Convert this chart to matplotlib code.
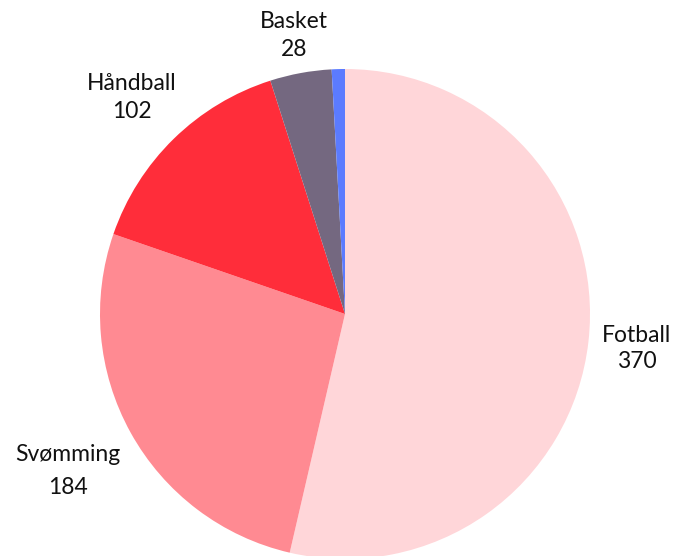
import matplotlib.pyplot as plt

# data
SPORTS = ["Fotball", "Svømming", "Håndball", "Basket", ""]
VALUES = [370, 184, 102, 28, 6]
COLORS = ["#ffd6d9", "#ff8a92", "#ff2d3a", "#746880", "#5b7bff"]

# label anchors in pixels (x center, baseline of name, baseline of number)
LABEL_POS = [(637, 342, 368), (68, 461, 494), (132, 90, 118), (294, 28, 56), None]

W, H = 689, 556
CX, CY, R = 345, 314, 245

plt.rcParams["font.family"] = ["Lato", "DejaVu Sans"]

fig = plt.figure(figsize=(W / 100, H / 100), dpi=100)
ax = fig.add_axes([(CX - R) / W, (H - CY - R) / H, 2 * R / W, 2 * R / H])
ax.pie(VALUES, colors=COLORS, startangle=90, counterclock=False,
       wedgeprops={"linewidth": 0})
ax.set_xlim(-1, 1)
ax.set_ylim(-1, 1)
ax.set_aspect("equal")
ax.axis("off")

for name, val, pos in zip(SPORTS, VALUES, LABEL_POS):
    if pos is None:
        continue
    x, y1, y2 = pos
    fig.text(x / W, 1 - y1 / H, name, ha="center", va="baseline",
             fontsize=16.5, color="#111111")
    fig.text(x / W, 1 - y2 / H, str(val), ha="center", va="baseline",
             fontsize=16.5, color="#111111")

fig.savefig("out.png", dpi=100)
